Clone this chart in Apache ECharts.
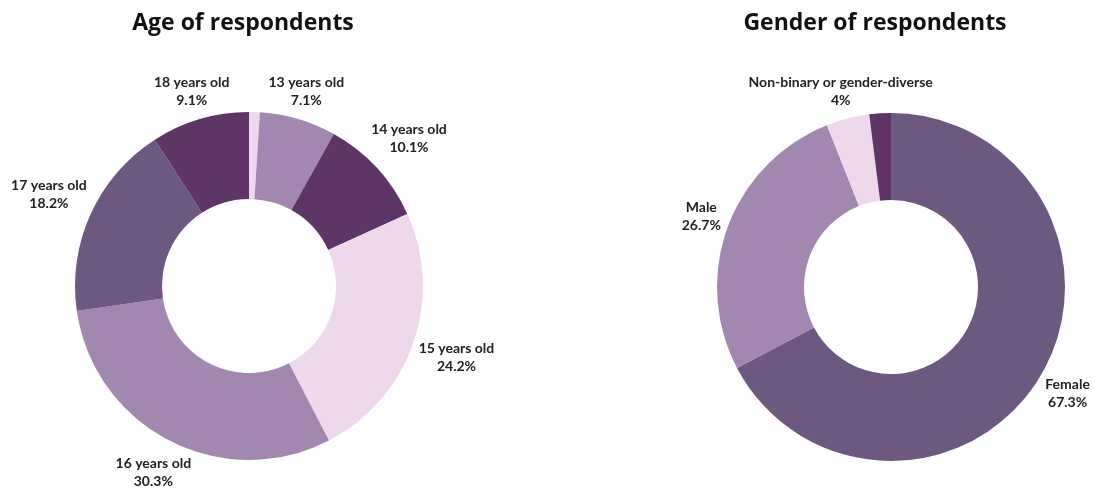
<!DOCTYPE html>
<html>
<head>
<meta charset="utf-8">
<title>Respondents by age and gender</title>
<script src="https://cdn.jsdelivr.net/npm/echarts@6/dist/echarts.min.js"></script>
<style>
  html, body { margin: 0; padding: 0; background: #ffffff; }
  #chart { width: 1094px; height: 489px; }
</style>
</head>
<body>
<div id="chart"></div>
<script>
// Age breakdown (percent of respondents), clockwise from 12 o'clock
const ageCategories = ['Other', '13 years old', '14 years old', '15 years old', '16 years old', '17 years old', '18 years old'];
const ageValues = [1.0, 7.1, 10.1, 24.2, 30.3, 18.2, 9.1];
const ageColors = ['#eed9ec', '#a288b0', '#5f3567', '#eed9ec', '#a288b0', '#6c5880', '#5f3567'];
const ageShowLabel = [false, true, true, true, true, true, true];

// Gender breakdown (percent of respondents), clockwise from 12 o'clock
const genderCategories = ['Female', 'Male', 'Non-binary or gender-diverse', 'Other'];
const genderValues = [67.3, 26.7, 4, 2.0];
const genderColors = ['#6c5880', '#a288b0', '#eed9ec', '#5f3567'];
const genderShowLabel = [true, true, true, false];

// Ring geometry
const INNER_R = 87;
const OUTER_R = 174;
const LABEL_GAP = 4;
const pieCenters = [[249, 286], [891, 287]];

function buildData(names, values, colors, show) {
  return names.map(function (n, i) {
    return {
      name: n,
      value: values[i],
      itemStyle: { color: colors[i] },
      label: { show: show[i] },
      labelLine: { show: false }
    };
  });
}

// Slide each label box along its slice's mid-angle ray until the nearest
// point of the box sits LABEL_GAP px outside the ring.
function placeLabel(p) {
  const c = pieCenters[p.seriesIndex];
  const r = p.labelRect;
  const ax = p.align === 'right' ? r.x + r.width : r.x;
  const ay = r.y + r.height / 2;
  let ux = ax - c[0], uy = ay - c[1];
  const len = Math.hypot(ux, uy) || 1;
  ux /= len; uy /= len;
  const hw = r.width / 2, hh = r.height / 2;
  const target = OUTER_R + LABEL_GAP;
  let lo = 0, hi = 600, d = 0;
  for (let i = 0; i < 50; i++) {
    d = (lo + hi) / 2;
    const bx = c[0] + ux * d, by = c[1] + uy * d;
    const nx = Math.max(bx - hw, Math.min(c[0], bx + hw));
    const ny = Math.max(by - hh, Math.min(c[1], by + hh));
    if (Math.hypot(nx - c[0], ny - c[1]) < target) lo = d; else hi = d;
  }
  return { x: c[0] + ux * d, y: c[1] + uy * d, align: 'center', verticalAlign: 'middle' };
}

const labelStyle = {
  position: 'outside',
  formatter: '{b}\n{c}%',
  fontFamily: 'Lato',
  fontWeight: 'bold',
  fontSize: 14,
  lineHeight: 18,
  color: '#222222',
  distanceToLabelLine: 0
};

const pieBase = {
  type: 'pie',
  radius: [INNER_R, OUTER_R],
  startAngle: 90,
  clockwise: true,
  avoidLabelOverlap: false,
  silent: true,
  animation: false,
  label: labelStyle,
  labelLine: { show: false, length: 30, length2: 0 },
  labelLayout: placeLabel,
  itemStyle: { borderWidth: 0 }
};

const titleText = { fontFamily: 'Open Sans', fontWeight: 'bold', fontSize: 23, color: '#111111' };

const chart = echarts.init(document.getElementById('chart'), null, { renderer: 'canvas' });
chart.setOption({
  backgroundColor: '#ffffff',
  title: [
    { text: 'Age of respondents', left: 238, top: 7, textAlign: 'center', textStyle: titleText },
    { text: 'Gender of respondents', left: 870, top: 7, textAlign: 'center', textStyle: titleText }
  ],
  series: [
    Object.assign({}, pieBase, {
      name: 'Age',
      center: pieCenters[0],
      data: buildData(ageCategories, ageValues, ageColors, ageShowLabel)
    }),
    Object.assign({}, pieBase, {
      name: 'Gender',
      center: pieCenters[1],
      data: buildData(genderCategories, genderValues, genderColors, genderShowLabel)
    })
  ]
});
</script>
</body>
</html>
